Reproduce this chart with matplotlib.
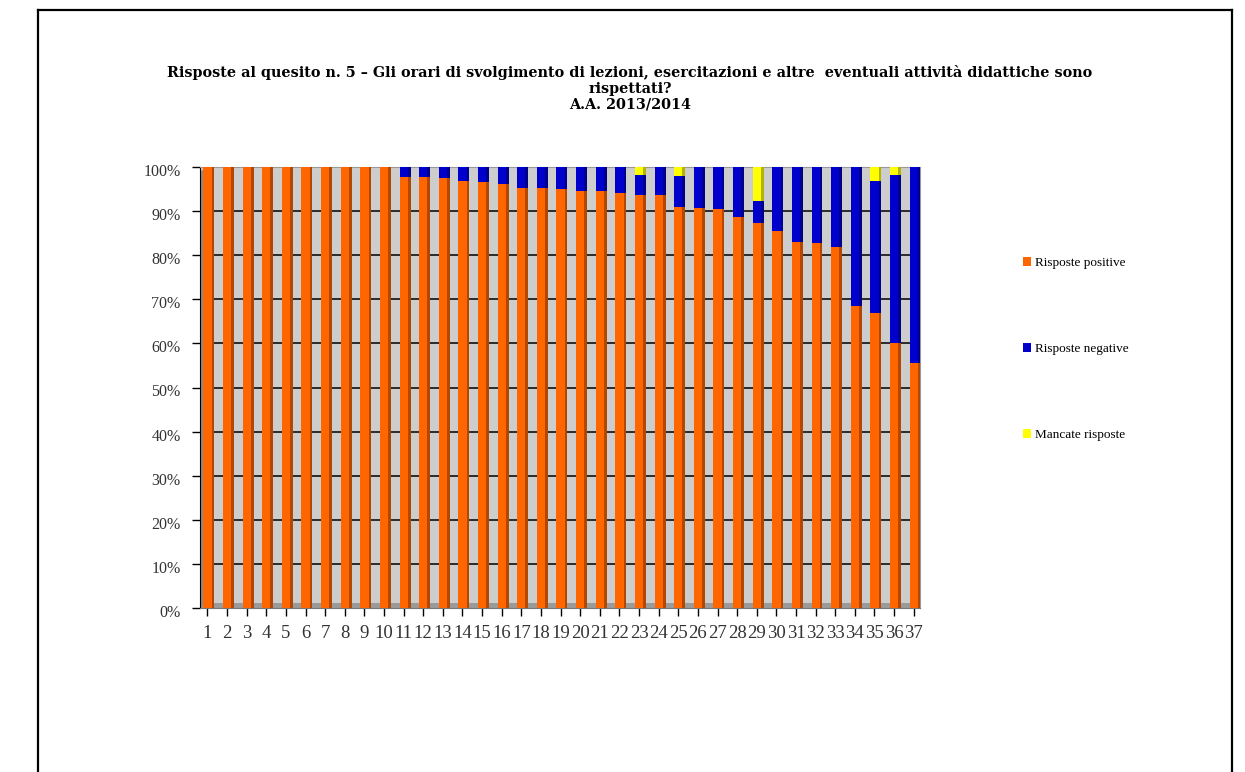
import matplotlib
matplotlib.use("Agg")
import matplotlib.pyplot as plt
from matplotlib.patches import Polygon
from matplotlib.lines import Line2D
import matplotlib.transforms as mtransforms
import numpy as np

categories = [str(i) for i in range(1, 38)]
positive = [100, 100, 100, 100, 100, 100, 100, 100, 100, 100,
            97.8, 97.7, 97.5, 96.8, 96.5, 96.2, 95.3, 95.2, 95.0, 94.5,
            94.5, 94.1, 93.7, 93.6, 91.0, 90.7, 90.5, 88.6, 87.3, 85.6,
            83.1, 82.7, 81.8, 68.5, 66.9, 60.0, 55.6]
missing = [0, 0, 0, 0, 0, 0, 0, 0, 0, 0,
           0, 0, 0, 0, 0, 0, 0, 0, 0, 0,
           0, 0, 1.9, 0, 2.1, 0, 0, 0, 7.8, 0,
           0, 0, 0, 0, 3.2, 1.9, 0]
negative = [round(100 - p - m, 1) for p, m in zip(positive, missing)]
series_names = ["Risposte positive", "Risposte negative", "Mancate risposte"]
colors = ["#FF6600", "#0000CC", "#FFFF00"]
shadow_colors = ["#B34700", "#00008A", "#B3B300"]
title = ("Risposte al quesito n. 5 \u2013 Gli orari di svolgimento di lezioni, esercitazioni e altre  eventuali attivit\u00e0 didattiche sono\n"
         "rispettati?\nA.A. 2013/2014")

plt.rcParams['font.family'] = ['Liberation Serif', 'DejaVu Serif']

fig = plt.figure(figsize=(12.45, 7.72), dpi=100)
W, H = 1245, 772

# outer frame
for xs, ys in [([38 / W, 1232 / W], [1 - 10 / H, 1 - 10 / H]),
               ([38 / W, 38 / W], [0, 1 - 10 / H]),
               ([1232 / W, 1232 / W], [0, 1 - 10 / H])]:
    fig.add_artist(Line2D(xs, ys, color="black", lw=1.6, transform=fig.transFigure))

ax = fig.add_axes([200 / W, 1 - 608 / H, (920 - 200) / W, (608 - 167) / H])
ax.set_facecolor("#CDCDCD")

x = np.arange(1, 38)
pos = np.array(positive)
neg = np.array(negative)
mis = np.array(missing)
bw = 0.42
off = 0.14
# shadow sides (3D look)
ax.bar(x + off, pos, width=bw, color=shadow_colors[0], zorder=3)
ax.bar(x + off, neg, bottom=pos, width=bw, color=shadow_colors[1], zorder=3)
ax.bar(x + off, mis, bottom=pos + neg, width=bw, color=shadow_colors[2], zorder=3)
# fronts
ax.bar(x, pos, width=bw, color=colors[0], label=series_names[0], zorder=4)
ax.bar(x, neg, bottom=pos, width=bw, color=colors[1], label=series_names[1], zorder=4)
ax.bar(x, mis, bottom=pos + neg, width=bw, color=colors[2], label=series_names[2], zorder=4)

ax.set_xlim(0.62, 37.32)
ax.set_ylim(0, 100)
ax.set_yticks(np.arange(0, 101, 10))
ax.set_yticklabels([f"{v}%" for v in range(0, 101, 10)], fontsize=11.5, color="#333333")
ax.set_xticks(x)
ax.set_xticklabels(categories, fontsize=13.5, color="#333333")
ax.yaxis.grid(True, color="black", lw=1.1, zorder=2)
ax.set_axisbelow(True)
ax.tick_params(axis="y", length=6, width=1, pad=8, direction="out")
ax.tick_params(axis="x", length=6, width=1, pad=6, direction="out")
shift = mtransforms.ScaledTranslation(0, -3 / 100, fig.dpi_scale_trans)
for lab in ax.get_yticklabels():
    lab.set_transform(lab.get_transform() + shift)
for s in ["top", "right"]:
    ax.spines[s].set_color("#999999")
ax.spines["left"].set_color("black")
ax.spines["bottom"].set_color("#777777")

# left wall (3D)
wall = Polygon([[0, 0], [0.012, 0.012], [0.012, 1.0], [0, 0.99]], closed=True,
               transform=ax.transAxes, facecolor="#8A8A8A", edgecolor="none", zorder=1, clip_on=False)
ax.add_patch(wall)
floor = Polygon([[0, 0], [1.0, 0], [1.0, 0.012], [0.012, 0.012]], closed=True,
                transform=ax.transAxes, facecolor="#9A9A9A", edgecolor="none", zorder=1, clip_on=False)
ax.add_patch(floor)

fig.text(630 / W, 1 - 65 / H, title, ha="center", va="top", fontsize=10.4, fontweight="bold",
         linespacing=1.15, family=["DejaVu Serif"])

handles, labels = ax.get_legend_handles_labels()
fig.legend(handles, labels, loc="upper left", bbox_to_anchor=(1018 / W, 1 - 252 / H),
           frameon=False, fontsize=9.5, labelspacing=5.6, handlelength=0.6, handleheight=0.6,
           handletextpad=0.3, borderaxespad=0)

fig.savefig("out.png", dpi=100)
